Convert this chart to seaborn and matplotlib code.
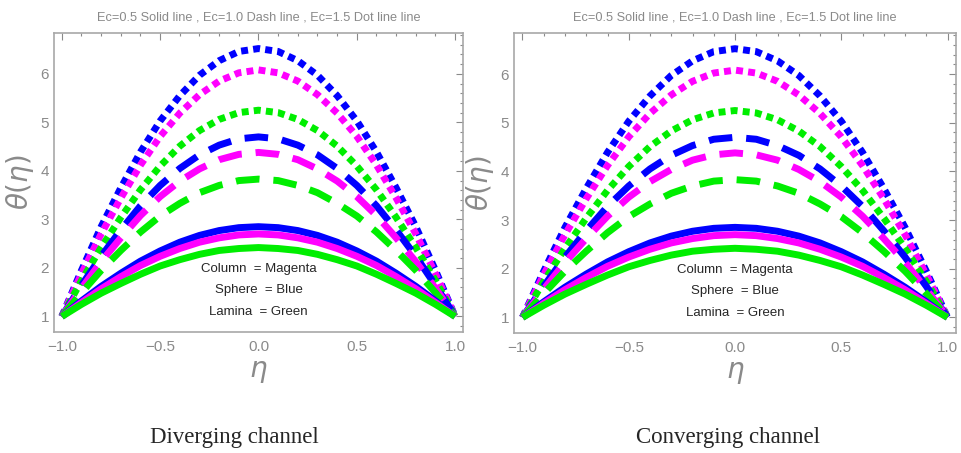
import numpy as np
import pandas as pd
import seaborn as sns
import matplotlib.pyplot as plt
from matplotlib.ticker import MultipleLocator

sns.set_style("white")
plt.rcParams['font.family'] = ['Liberation Sans', 'DejaVu Sans']
plt.rcParams['mathtext.fontset'] = 'dejavusans'

# grid of eta values across the channel
eta = [-1.0, -0.9, -0.8, -0.7, -0.6, -0.5, -0.4, -0.3, -0.2, -0.1, 0.0,
       0.1, 0.2, 0.3, 0.4, 0.5, 0.6, 0.7, 0.8, 0.9, 1.0]

# theta(eta), Ec = 0.5 (solid)
lamina_ec05 = [1.00, 1.25, 1.48, 1.68, 1.87, 2.04, 2.17, 2.28, 2.36, 2.40, 2.42,
               2.40, 2.36, 2.28, 2.17, 2.04, 1.87, 1.68, 1.48, 1.25, 1.00]
column_ec05 = [1.00, 1.29, 1.57, 1.82, 2.05, 2.24, 2.40, 2.53, 2.62, 2.68, 2.70,
               2.68, 2.62, 2.53, 2.40, 2.24, 2.05, 1.82, 1.57, 1.29, 1.00]
sphere_ec05 = [1.00, 1.32, 1.62, 1.89, 2.14, 2.35, 2.53, 2.67, 2.77, 2.83, 2.85,
               2.83, 2.77, 2.67, 2.53, 2.35, 2.14, 1.89, 1.62, 1.32, 1.00]

# theta(eta), Ec = 1.0 (dashed)
lamina_ec10 = [1.00, 1.49, 1.95, 2.36, 2.74, 3.07, 3.33, 3.55, 3.70, 3.80, 3.83,
               3.80, 3.70, 3.55, 3.33, 3.07, 2.74, 2.36, 1.95, 1.49, 1.00]
column_ec10 = [1.00, 1.58, 2.13, 2.62, 3.08, 3.47, 3.79, 4.04, 4.23, 4.34, 4.38,
               4.34, 4.23, 4.04, 3.79, 3.47, 3.08, 2.62, 2.13, 1.58, 1.00]
sphere_ec10 = [1.00, 1.64, 2.24, 2.78, 3.28, 3.70, 4.05, 4.33, 4.53, 4.66, 4.70,
               4.66, 4.53, 4.33, 4.05, 3.70, 3.28, 2.78, 2.24, 1.64, 1.00]

# theta(eta), Ec = 1.5 (dotted)
lamina_ec15 = [1.00, 1.74, 2.42, 3.04, 3.61, 4.10, 4.51, 4.83, 5.06, 5.20, 5.25,
               5.20, 5.06, 4.83, 4.51, 4.10, 3.61, 3.04, 2.42, 1.74, 1.00]
column_ec15 = [1.00, 1.88, 2.70, 3.44, 4.12, 4.71, 5.19, 5.57, 5.85, 6.02, 6.08,
               6.02, 5.85, 5.57, 5.19, 4.71, 4.12, 3.44, 2.70, 1.88, 1.00]
sphere_ec15 = [1.00, 1.95, 2.85, 3.65, 4.39, 5.03, 5.55, 5.97, 6.27, 6.46, 6.52,
               6.46, 6.27, 5.97, 5.55, 5.03, 4.39, 3.65, 2.85, 1.95, 1.00]

series = {
    ("Lamina", "0.5"): lamina_ec05, ("Column", "0.5"): column_ec05, ("Sphere", "0.5"): sphere_ec05,
    ("Lamina", "1.0"): lamina_ec10, ("Column", "1.0"): column_ec10, ("Sphere", "1.0"): sphere_ec10,
    ("Lamina", "1.5"): lamina_ec15, ("Column", "1.5"): column_ec15, ("Sphere", "1.5"): sphere_ec15,
}

panels = ["Diverging channel", "Converging channel"]
title_text = "Ec=0.5 Solid line , Ec=1.0 Dash line , Ec=1.5 Dot line line"
key_lines = ["Column  = Magenta", "Sphere  = Blue", "Lamina  = Green"]
key_y = [1.98, 1.54, 1.09]

colors = {"Lamina": "#00ee00", "Column": "#ff00ff", "Sphere": "#0000ff"}
styles = {"0.5": "-", "1.0": (0, (3.4, 2.0)), "1.5": (0, (1.0, 0.75))}
GRAY = "#8a8a8a"

rows = []
for (shape, ec), vals in series.items():
    for e, v in zip(eta, vals):
        rows.append({"eta": e, "theta": v, "shape": shape, "Ec": ec})
df = pd.DataFrame(rows)

fig = plt.figure(figsize=(9.62, 4.53), dpi=100)
axes = [fig.add_axes([0.0561, 0.2671, 0.4252, 0.660]),
        fig.add_axes([0.5343, 0.2649, 0.4595, 0.662])]

for ax, caption in zip(axes, panels):
    for ec in ["1.5", "1.0", "0.5"]:
        for shape in ["Sphere", "Column", "Lamina"]:
            sub = df[(df["shape"] == shape) & (df["Ec"] == ec)]
            sns.lineplot(data=sub, x="eta", y="theta", ax=ax, color=colors[shape],
                         linewidth=5.0, linestyle=styles[ec], legend=False,
                         solid_capstyle="butt", dash_capstyle="butt", sort=False)
    ax.set_xlim(-1.04, 1.04)
    ax.set_ylim(0.68, 6.84)
    ax.xaxis.set_major_locator(MultipleLocator(0.5))
    ax.xaxis.set_minor_locator(MultipleLocator(0.1))
    ax.yaxis.set_major_locator(MultipleLocator(1))
    ax.yaxis.set_minor_locator(MultipleLocator(0.2))
    ax.tick_params(which="both", direction="in", top=True, right=True,
                   color=GRAY, labelcolor=GRAY, labelsize=11, width=0.8)
    ax.tick_params(which="major", length=5)
    ax.tick_params(which="minor", length=2.5)
    ax.tick_params(axis="x", pad=6)
    ax.set_xticks([-1.0, -0.5, 0.0, 0.5, 1.0])
    ax.set_xticklabels([f"{t:.1f}".replace("-", "\u2212") for t in [-1.0, -0.5, 0.0, 0.5, 1.0]])
    for sp in ax.spines.values():
        sp.set_color("#a8a8a8")
        sp.set_linewidth(1.2)
    ax.set_xlabel(r"$\eta$", fontsize=20, color=GRAY, labelpad=3)
    ax.set_ylabel(r"$\theta(\eta)$", fontsize=20, color=GRAY, labelpad=3)
    ax.set_title(title_text, fontsize=9.2, color=GRAY, pad=9)
    for txt, yv in zip(key_lines, key_y):
        ax.text(0.0, yv, txt, ha="center", va="center", fontsize=9.5)

for caption, cx in zip(panels, [234, 728]):
    fig.text(cx / 962, 1 - 437 / 453, caption, ha="center", va="center",
             fontsize=16.5, family=["Liberation Serif", "DejaVu Serif"])

fig.savefig("out.png", dpi=100, facecolor="white")
